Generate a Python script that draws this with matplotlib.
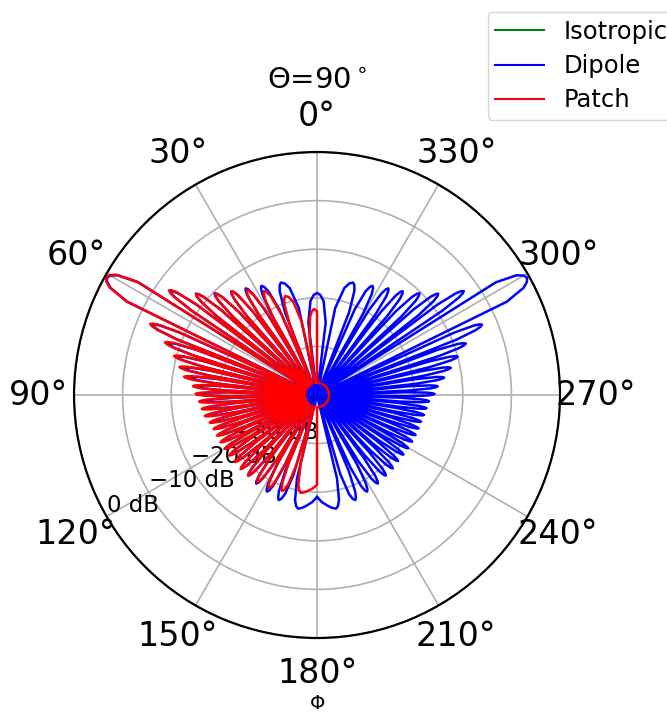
import numpy as np
import matplotlib.pyplot as plt

# normalised radiation pattern, cut at theta = 90 deg, values in dB
# dipole: right half (phi 180..360), the left half is its mirror image
blue_peak_phi = [189.5, 200.0, 207.4, 214.5, 220.5, 225.9, 230.8, 235.4, 239.7,
                 243.9, 247.9, 251.8, 255.6, 259.4, 263.1, 266.8, 270.5, 274.1,
                 277.8, 281.5, 285.3, 289.1, 293.1, 299.2, 305.3, 309.9, 314.8,
                 320.5, 326.2, 333.0, 342.2, 360.0]
blue_peak_db = [-26.3, -27.0, -27.6, -27.9, -28.2, -28.3, -28.5, -28.4, -28.3,
                -28.2, -28.1, -28.0, -27.9, -27.6, -27.3, -26.9, -25.8, -25.1,
                -23.6, -21.9, -20.0, -17.6, -13.1, -0.5, -13.0, -17.5, -20.3,
                -22.3, -23.6, -24.8, -25.7, -29.0]
blue_null_phi = [180.0, 195.0, 203.7, 211.0, 217.5, 223.2, 228.4, 233.1, 237.6,
                 241.8, 245.9, 249.9, 253.7, 257.5, 261.3, 265.0, 268.7, 272.3,
                 276.0, 279.7, 283.4, 287.2, 291.1, 295.0, 303.4, 307.5, 312.2,
                 317.5, 323.2, 329.5, 337.5, 350.5]
blue_null_db = [-29.0] + [-50.0] * 31

# patch: front half (phi 0..180), floor behind it
red_peak_phi = [2.0, 17.8, 27.0, 33.8, 39.5, 45.2, 50.1, 54.7, 60.8, 66.9, 70.9,
                74.7, 78.5, 82.2, 85.9, 89.5, 93.2, 96.9, 100.6, 104.4, 108.2,
                112.1, 116.1, 120.3, 124.6, 129.2, 134.1, 139.5, 145.5, 152.6,
                160.0, 170.5]
red_peak_db = [-32.3, -28.6, -26.0, -24.0, -22.3, -20.5, -17.6, -12.7, -0.3, -12.7,
               -16.9, -19.5, -21.1, -22.4, -24.4, -25.0, -25.7, -26.1, -26.5, -27.2,
               -27.6, -27.8, -27.9, -28.0, -28.1, -28.2, -28.1, -28.2, -28.3,
               -28.4, -29.0, -29.6]
red_null_phi = [0.0, 9.5, 22.5, 30.5, 36.8, 42.5, 47.8, 52.5, 56.6, 65.0, 68.9,
                72.8, 76.6, 80.3, 84.0, 87.7, 91.3, 95.0, 98.7, 102.5, 106.3,
                110.1, 114.1, 118.2, 122.4, 126.9, 131.6, 136.8, 142.5, 149.0,
                156.3, 165.0, 180.0]
red_floor_db = -47.5
red_null_db = [-32.8] + [red_floor_db] * 31 + [-31.5]

iso_db = 0.0

r_ticks = [-40, -30, -20, -10, 0]
r_labels = ['', '\u221230 dB', '\u221220 dB', '\u221210 dB', '0 dB']
phi_ticks = list(range(0, 360, 30))

# shape of one lobe: (fraction of the way to the null, max drop in dB, share of depth)
LOBE_SHAPE = [(0.2, 0.4, 0.1), (0.42, 1.6, 0.3), (0.72, 6.0, 0.6)]


def lobe_curve(peak_phi, peak_db, null_phi, null_db):
    # nulls and peaks alternate: null, peak, null, ..., peak, null
    phi, db = [null_phi[0]], [null_db[0]]
    for i in range(len(peak_phi)):
        pp, dp = peak_phi[i], peak_db[i]
        for j, side in ((i, 1), (i + 1, -1)):
            pn, dn = null_phi[j], null_db[j]
            depth = dp - dn
            sh = [(pp + f * (pn - pp), dp - min(d, s * depth)) for f, d, s in LOBE_SHAPE]
            if side == 1:
                sh = sh[::-1]
            phi += [s[0] for s in sh]
            db += [s[1] for s in sh]
            if side == 1:
                phi.append(pp)
                db.append(dp)
        phi.append(null_phi[i + 1])
        db.append(null_db[i + 1])
    return phi, db


# dipole: mirror the right half onto the left half
bp = blue_peak_phi + [720 - p for p in blue_peak_phi[-2::-1]]
bd = blue_peak_db + blue_peak_db[-2::-1]
bnp = blue_null_phi + [720 - p for p in blue_null_phi[::-1]]
bnd = blue_null_db + blue_null_db[::-1]
blue_phi, blue_db = lobe_curve(bp, bd, bnp, bnd)

red_phi, red_db = lobe_curve(red_peak_phi, red_peak_db, red_null_phi, red_null_db)
red_phi = [0.0] + red_phi + [180.0]
red_db = [red_floor_db] + red_db + [red_floor_db]

fig = plt.figure(figsize=(6.67, 7.14), dpi=100)
ax = fig.add_axes([0.111, 0.1064, 0.7286, 0.6807], projection='polar')
ax.set_theta_zero_location('N')
ax.set_theta_direction(1)

ax.axhline(iso_db, color='green', lw=1.0, label='Isotropic')
ax.plot(np.radians(blue_phi), blue_db, color='blue', lw=1.8, label='Dipole')
ax.plot(np.radians(red_phi), red_db, color='red', lw=1.8, label='Patch')
ax.axhline(red_floor_db, xmin=0.5, xmax=1.0, color='red', lw=1.8)

ax.set_rlim(-50, 0)
ax.set_rticks(r_ticks)
ax.set_yticklabels(r_labels, fontsize=16.5)
ax.set_rlabel_position(120)
ax.set_thetagrids(phi_ticks, [f'{t}\u00b0' for t in phi_ticks], fontsize=24)
ax.tick_params(axis='x', pad=15)
ax.grid(color='#b0b0b0', lw=1.2)
ax.spines['polar'].set_linewidth(1.6)

ax.set_title(r'$\Theta$=90$^\circ$', fontsize=21, y=1.131, pad=0)
fig.text(0.4753, 0.002, r'$\Phi$', fontsize=14, ha='center', va='bottom')

leg = fig.legend(loc='upper left', bbox_to_anchor=(0.731, 0.983), borderaxespad=0,
                 fontsize=17.5, borderpad=0.32, labelspacing=0.42)
for h in leg.get_lines():
    h.set_linewidth(1.5)

fig.savefig('out.png', dpi=100)
